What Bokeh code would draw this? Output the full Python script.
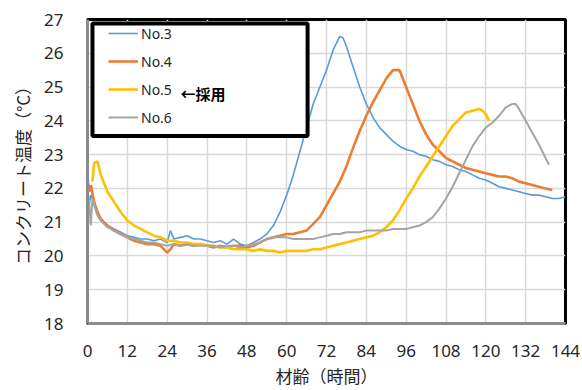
from bokeh.plotting import figure
from bokeh.models import (ColumnDataSource, Range1d, FixedTicker, Legend, LegendItem,
                          BoxAnnotation, Label)
from bokeh.embed import file_html
from bokeh.resources import INLINE

# ---------------- data ----------------
x_ticks = [0, 12, 24, 36, 48, 60, 72, 84, 96, 108, 120, 132, 144]
y_ticks = [18, 19, 20, 21, 22, 23, 24, 25, 26, 27]
series_names = ["No.3", "No.4", "No.5", "No.6"]

h3 = [0, 0.5, 1, 2, 3, 4, 6, 8, 10, 12, 14, 16, 18, 20, 22, 24, 25, 26, 28, 30, 32, 34, 36,
      38, 40, 42, 44, 46, 48, 50, 52, 54, 56, 58, 60, 62, 64, 66, 68, 70, 72, 74, 76, 77, 78,
      80, 82, 84, 86, 88, 90, 92, 94, 96, 98, 100, 102, 104, 106, 108, 110, 112, 114, 116,
      118, 120, 122, 124, 126, 128, 130, 132, 134, 136, 138, 140, 142, 144]
t3 = [21.9, 21.5, 21.8, 21.6, 21.3, 21.1, 20.9, 20.8, 20.7, 20.6, 20.55, 20.5, 20.5, 20.45,
      20.5, 20.4, 20.75, 20.5, 20.55, 20.6, 20.5, 20.5, 20.45, 20.4, 20.45, 20.35, 20.5, 20.35,
      20.3, 20.4, 20.5, 20.65, 20.9, 21.3, 21.8, 22.4, 23.1, 23.8, 24.5, 25.0, 25.5, 26.1, 26.5,
      26.45, 26.2, 25.6, 25.0, 24.5, 24.1, 23.8, 23.6, 23.4, 23.25, 23.15, 23.1, 23.0, 22.95,
      22.85, 22.8, 22.7, 22.65, 22.55, 22.5, 22.4, 22.3, 22.25, 22.15, 22.05, 22.0, 21.95, 21.9,
      21.85, 21.8, 21.8, 21.75, 21.7, 21.7, 21.75]

h4 = [0, 0.5, 1, 2, 3, 4, 6, 8, 10, 12, 14, 16, 18, 20, 22, 24, 25, 26, 28, 30, 32, 34, 36,
      38, 40, 42, 44, 46, 48, 50, 52, 54, 56, 58, 60, 62, 64, 66, 68, 70, 72, 74, 76, 78, 80,
      82, 84, 86, 88, 90, 92, 94, 96, 98, 100, 102, 104, 106, 108, 110, 112, 114, 116, 118,
      120, 122, 124, 126, 128, 130, 132, 134, 136, 138, 140]
t4 = [22.3, 21.9, 22.1, 21.6, 21.3, 21.1, 20.9, 20.75, 20.65, 20.55, 20.45, 20.4, 20.35, 20.35,
      20.3, 20.1, 20.2, 20.35, 20.3, 20.35, 20.3, 20.35, 20.3, 20.25, 20.3, 20.25, 20.3, 20.3,
      20.25, 20.3, 20.4, 20.5, 20.55, 20.6, 20.65, 20.65, 20.7, 20.75, 20.95, 21.15, 21.5, 21.85,
      22.2, 22.65, 23.2, 23.7, 24.15, 24.55, 24.9, 25.25, 25.5, 25.5, 25.0, 24.5, 24.0, 23.6,
      23.3, 23.1, 22.9, 22.8, 22.7, 22.6, 22.55, 22.5, 22.45, 22.4, 22.35, 22.35, 22.3, 22.2,
      22.15, 22.1, 22.05, 22.0, 21.95]

h5 = [1.5, 2, 3, 4, 5, 6, 8, 10, 12, 14, 16, 18, 20, 22, 24, 26, 28, 30, 32, 34, 36, 38, 40,
      42, 44, 46, 48, 50, 52, 54, 56, 58, 60, 62, 64, 66, 68, 70, 72, 74, 76, 78, 80, 82, 84,
      86, 88, 90, 92, 94, 96, 98, 100, 102, 104, 106, 108, 110, 112, 114, 116, 118, 119, 120, 121]
t5 = [22.2, 22.75, 22.8, 22.4, 22.15, 21.9, 21.6, 21.3, 21.05, 20.9, 20.8, 20.7, 20.6, 20.55,
      20.45, 20.45, 20.4, 20.4, 20.35, 20.35, 20.3, 20.3, 20.25, 20.25, 20.2, 20.2, 20.2, 20.15,
      20.2, 20.15, 20.15, 20.1, 20.15, 20.15, 20.15, 20.15, 20.2, 20.2, 20.25, 20.3, 20.35, 20.4,
      20.45, 20.5, 20.55, 20.6, 20.7, 20.85, 21.05, 21.35, 21.7, 22.0, 22.35, 22.65, 22.95,
      23.25, 23.55, 23.85, 24.05, 24.25, 24.3, 24.35, 24.3, 24.2, 24.0]

h6 = [0, 0.5, 1, 1.5, 2, 3, 4, 6, 8, 10, 12, 14, 16, 18, 20, 22, 24, 26, 28, 30, 32, 34, 36,
      38, 40, 42, 44, 46, 48, 50, 52, 54, 56, 58, 60, 62, 64, 66, 68, 70, 72, 74, 76, 78, 80,
      82, 84, 86, 88, 90, 92, 94, 96, 98, 100, 102, 104, 106, 108, 110, 112, 114, 116, 118,
      120, 122, 124, 126, 128, 129, 130, 132, 134, 136, 138, 139]
t6 = [22.0, 21.6, 20.9, 21.7, 21.5, 21.2, 21.05, 20.85, 20.75, 20.65, 20.55, 20.5, 20.45, 20.4,
      20.4, 20.35, 20.3, 20.35, 20.3, 20.35, 20.3, 20.3, 20.3, 20.3, 20.25, 20.3, 20.3, 20.25,
      20.3, 20.35, 20.4, 20.5, 20.55, 20.55, 20.55, 20.5, 20.5, 20.5, 20.5, 20.55, 20.6, 20.65,
      20.65, 20.7, 20.7, 20.7, 20.75, 20.75, 20.75, 20.75, 20.8, 20.8, 20.8, 20.85, 20.9, 21.0,
      21.15, 21.4, 21.7, 22.05, 22.45, 22.85, 23.25, 23.55, 23.8, 23.95, 24.15, 24.4, 24.5,
      24.5, 24.35, 24.0, 23.65, 23.3, 22.9, 22.7]

# ---------------- figure ----------------
p = figure(width=582, height=390, output_backend="svg", toolbar_location=None,
           x_range=Range1d(0, 144), y_range=Range1d(18, 27),
           min_border_left=87, min_border_right=17, min_border_top=19, min_border_bottom=63)
p.background_fill_color = "white"
p.border_fill_color = "white"
p.outline_line_color = "black"
p.outline_line_width = 3

for ax, ticks in ((p.xaxis, x_ticks), (p.yaxis, y_ticks)):
    ax.ticker = FixedTicker(ticks=ticks)
    ax.major_tick_line_color = None
    ax.minor_tick_line_color = None
    ax.axis_line_color = "#8c8c8c"
    ax.axis_line_width = 3
    ax.major_label_text_font = "Noto Sans"
    ax.major_label_text_font_size = "17px"
    ax.major_label_text_color = "#262626"
    ax.axis_label_text_font = "Noto Sans CJK JP"
    ax.axis_label_text_font_size = "17px"
    ax.axis_label_text_font_style = "normal"
    ax.axis_label_text_color = "#262626"

p.xaxis.axis_label = "材齢（時間）"
p.yaxis.axis_label = "コンクリート温度（°C）"
p.xaxis.major_label_standoff = 15
p.xaxis.axis_label_standoff = 3
p.yaxis.major_label_standoff = 18
p.yaxis.axis_label_standoff = 6

p.xgrid.ticker = FixedTicker(ticks=x_ticks)
p.ygrid.ticker = FixedTicker(ticks=y_ticks)
p.grid.grid_line_color = "#d9d9d9"
p.grid.grid_line_width = 1.5

colors = ["#5B9BD5", "#ED7D31", "#FFC000", "#A5A5A5"]
widths = [1.6, 2.6, 2.6, 2.0]
data = [(h3, t3), (h4, t4), (h5, t5), (h6, t6)]
renderers = []
for (hx, ty), c, w in zip(data, colors, widths):
    src = ColumnDataSource(dict(x=hx, y=ty))
    r = p.line("x", "y", source=src, line_color=c, line_width=w)
    renderers.append(r)

# legend box
box = BoxAnnotation(left=1.5, right=66.3, top=26.88, bottom=23.55,
                    fill_color="white", fill_alpha=1.0,
                    line_color="black", line_alpha=1.0, line_width=4)
p.add_layout(box)

items = [LegendItem(label=n, renderers=[r]) for n, r in zip(series_names, renderers)]
legend = Legend(items=items, location=(17, 192), padding=4, margin=0, spacing=8,
                label_height=20, glyph_height=20, glyph_width=30, label_standoff=3,
                border_line_alpha=0, background_fill_alpha=0,
                label_text_font="Noto Sans", label_text_font_size="14px",
                label_text_color="#262626")
p.add_layout(legend)

p.add_layout(Label(x=28, y=24.81, text="←採用", text_font="Noto Sans CJK JP",
                   text_font_size="15px", text_font_style="bold", text_color="black",
                   text_baseline="middle"))

open("out.html", "w").write(file_html(p, INLINE))
